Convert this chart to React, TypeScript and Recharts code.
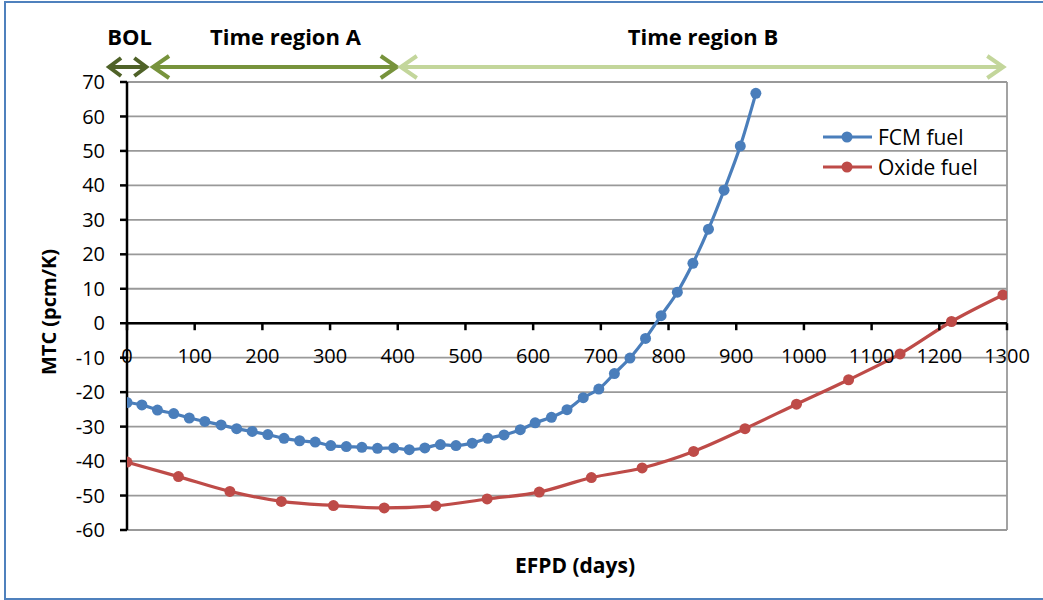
import React from 'react';
import {
  LineChart,
  Line,
  XAxis,
  YAxis,
  CartesianGrid,
  ReferenceLine,
  ReferenceDot,
  Legend,
} from 'recharts';

// ---------- data ----------
const fcmDays = [0, 22, 45, 69, 92, 115, 139, 162, 185, 208, 232, 255, 278, 301, 324, 347, 370, 394, 417, 440, 463, 486, 510, 533, 557, 581, 603, 627, 650, 674, 697, 720, 743, 766, 789, 813, 836, 859, 882, 906, 929];
const fcmMtc = [-23.0, -23.7, -25.2, -26.2, -27.5, -28.5, -29.5, -30.6, -31.4, -32.3, -33.4, -34.1, -34.5, -35.5, -35.8, -36.0, -36.3, -36.2, -36.7, -36.2, -35.2, -35.5, -34.8, -33.4, -32.4, -30.9, -28.9, -27.3, -25.1, -21.6, -19.1, -14.6, -10.1, -4.4, 2.2, 9.0, 17.4, 27.3, 38.6, 51.4, 66.7];

const oxideDays = [0, 76, 152, 228, 305, 380, 456, 532, 609, 686, 761, 837, 913, 989, 1066, 1142, 1218, 1294];
const oxideMtc = [-40.3, -44.5, -48.8, -51.7, -52.9, -53.6, -53.0, -51.0, -49.0, -44.8, -42.0, -37.2, -30.6, -23.5, -16.4, -8.9, 0.5, 8.2];

const xTicks = [0, 100, 200, 300, 400, 500, 600, 700, 800, 900, 1000, 1100, 1200, 1300];
const yTicks = [-60, -50, -40, -30, -20, -10, 0, 10, 20, 30, 40, 50, 60, 70];

const seriesNames = ['FCM fuel', 'Oxide fuel'];
const seriesColors = ['#4a7ebb', '#be4b48'];

const regionLabels = ['BOL', 'Time region A', 'Time region B'];
const regionStart = [-28, 37, 403];
const regionEnd = [30, 400, 1296];
const regionLabelAt = [4, 234, 851];
const regionColors = ['#4f6228', '#77933c', '#c3d69b'];

const fcmData = fcmDays.map((x, i) => ({ x, y: fcmMtc[i] }));
const oxideData = oxideDays.map((x, i) => ({ x, y: oxideMtc[i] }));

const FONT = "'Open Sans', 'Noto Sans', sans-serif";

function regionShape(i: number) {
  return (p: any) => {
    const x1 = p.x1;
    const x2 = p.x2;
    const y = p.y1 - 15;
    const L = i === 0 ? 13 : 17;
    const H = i === 0 ? 9 : 11;
    const c = regionColors[i];
    const lx = x1 + ((x2 - x1) * (regionLabelAt[i] - regionStart[i])) / (regionEnd[i] - regionStart[i]);
    return (
      <g>
        <line x1={x1 + 2} y1={y} x2={x2 - 2} y2={y} stroke={c} strokeWidth={4} />
        <polyline points={`${x1 + L},${y - H} ${x1 + 1},${y} ${x1 + L},${y + H}`} fill="none" stroke={c} strokeWidth={4} strokeLinejoin="miter" />
        <polyline points={`${x2 - L},${y - H} ${x2 - 1},${y} ${x2 - L},${y + H}`} fill="none" stroke={c} strokeWidth={4} strokeLinejoin="miter" />
        <text x={lx} y={p.y1 - 37} textAnchor="middle" fontFamily={FONT} fontWeight={700} fontSize={22} fill="#000">
          {regionLabels[i]}
        </text>
      </g>
    );
  };
}

const renderLegend = (props: any) => {
  const payload = props.payload || [];
  return (
    <div style={{ fontFamily: FONT, fontSize: 21, color: '#000' }}>
      {payload.map((e: any) => (
        <div key={e.value} style={{ display: 'flex', alignItems: 'center', height: 30 }}>
          <svg width={56} height={30} style={{ display: 'block' }}>
            <line x1={1} y1={15} x2={50} y2={15} stroke={e.color} strokeWidth={3.2} />
            <circle cx={25} cy={15} r={5.5} fill={e.color} />
          </svg>
          <span style={{ lineHeight: '30px', whiteSpace: 'nowrap' }}>{e.value}</span>
        </div>
      ))}
    </div>
  );
};

export default function App() {
  return (
    <div style={{ position: 'absolute', left: 0, top: 0, width: 1043, height: 600, overflow: 'hidden', background: '#fff' }}>
      <div
        style={{
          position: 'absolute',
          left: 4,
          top: 1,
          width: 1100,
          height: 595,
          border: '2px solid #4f81bd',
        }}
      />
      <div style={{ position: 'absolute', left: 0, top: 0 }}>
        <LineChart width={1043} height={600} margin={{ top: 82, right: 36, bottom: 10, left: 0 }}>
          <CartesianGrid stroke="#999" strokeWidth={1.8} />
          <XAxis
            type="number"
            dataKey="x"
            domain={[0, 1300]}
            ticks={xTicks}
            interval={0}
            allowDataOverflow
            axisLine={false}
            tickLine={false}
            tick={false}
            height={60}
            label={{
              content: (p: any) => {
                const vb = p.viewBox;
                return (
                  <text x={vb.x + vb.width / 2 + 8} y={vb.y + 43} textAnchor="middle" fontFamily={FONT} fontWeight={700} fontSize={21} fill="#000">
                    EFPD (days)
                  </text>
                );
              },
            }}
          />
          <YAxis
            type="number"
            domain={[-60, 70]}
            ticks={yTicks}
            interval={0}
            width={127}
            tickSize={7}
            tickMargin={15}
            axisLine={{ stroke: '#000', strokeWidth: 2.5 }}
            tickLine={{ stroke: '#000', strokeWidth: 2.5 }}
            tick={{ fill: '#000', fontSize: 20, fontFamily: FONT }}
            label={{
              content: (p: any) => {
                const vb = p.viewBox;
                const cy = vb.y + vb.height / 2 + 6;
                return (
                  <text x={56} y={cy} transform={`rotate(-90, 56, ${cy})`} textAnchor="middle" fontFamily={FONT} fontWeight={700} fontSize={20} fill="#000">
                    MTC (pcm/K)
                  </text>
                );
              },
            }}
          />
          <ReferenceLine y={0} stroke="#000" strokeWidth={2.5} />
          {xTicks.map((t) => (
            <ReferenceDot
              key={`xt-${t}`}
              x={t}
              y={0}
              r={1}
              ifOverflow="visible"
              shape={(p: any) => (
                <g>
                  <line x1={p.cx} y1={p.cy} x2={p.cx} y2={p.cy + 7} stroke="#000" strokeWidth={2.5} />
                  <text x={p.cx} y={p.cy + 40} textAnchor="middle" fontFamily={FONT} fontSize={20} fill="#000">
                    {t}
                  </text>
                </g>
              )}
            />
          ))}
          {regionLabels.map((lab, i) => (
            <ReferenceLine
              key={lab}
              segment={[
                { x: regionStart[i], y: 70 },
                { x: regionEnd[i], y: 70 },
              ]}
              ifOverflow="visible"
              shape={regionShape(i)}
            />
          ))}
          <Line
            data={fcmData}
            dataKey="y"
            name={seriesNames[0]}
            type="monotone"
            stroke={seriesColors[0]}
            strokeWidth={3.2}
            dot={{ r: 5.5, fill: seriesColors[0], stroke: seriesColors[0], strokeWidth: 0 }}
            activeDot={false}
            isAnimationActive={false}
          />
          <Line
            data={oxideData}
            dataKey="y"
            name={seriesNames[1]}
            type="monotone"
            stroke={seriesColors[1]}
            strokeWidth={3.2}
            dot={{ r: 5.5, fill: seriesColors[1], stroke: seriesColors[1], strokeWidth: 0 }}
            activeDot={false}
            isAnimationActive={false}
          />
          <Legend
            layout="vertical"
            align="center"
            verticalAlign="middle"
            wrapperStyle={{ left: 822, top: 122, width: 'auto' }}
            content={renderLegend}
          />
        </LineChart>
      </div>
    </div>
  );
}
